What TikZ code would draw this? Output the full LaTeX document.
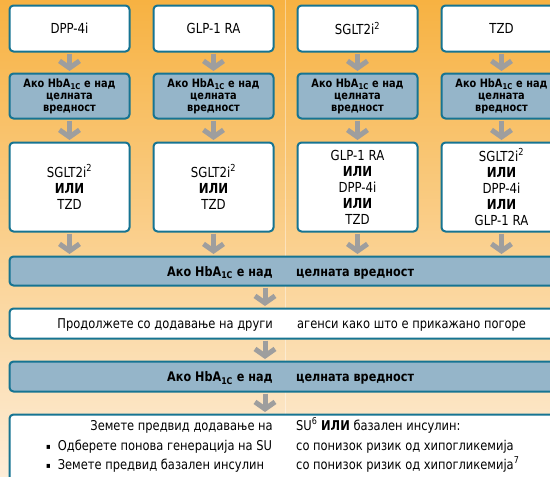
\documentclass[tikz,border=0pt]{standalone}
\usepackage{fontspec}
\setmainfont{DejaVu Sans}[FakeStretch=0.85]
\usetikzlibrary{arrows.meta}
\definecolor{bgtop}{RGB}{247,178,66}
\definecolor{bgmid}{RGB}{251,214,152}
\definecolor{bgbot}{RGB}{253,237,216}
\definecolor{frame}{RGB}{22,116,146}
\definecolor{ifblue}{RGB}{149,181,201}
\definecolor{arrgray}{RGB}{158,158,158}
\newcommand{\hba}{HbA\textsubscript{1C}}
\newcommand{\sqbul}{{\fontsize{8}{8}\selectfont\raisebox{1pt}{▪}}\hspace{7pt}}

\begin{document}
\begin{tikzpicture}[x=1pt, y=-1pt,
  box/.style = {draw=frame, line width=2pt, rounded corners=4pt, inner sep=0pt, align=center},
  drug/.style = {box, fill=white, minimum width=120pt, font=\fontsize{13.8}{16}\selectfont},
  cond/.style = {box, fill=ifblue, minimum width=120pt, minimum height=45pt, font=\bfseries\fontsize{11.5}{12}\selectfont},
  wide/.style = {box, minimum width=552pt},
  bartext/.style = {inner sep=0pt, font=\bfseries\fontsize{13.2}{15}\selectfont},
  plain/.style = {inner sep=0pt, font=\fontsize{13.5}{16}\selectfont},
  down/.style = {arrgray, line width=5pt, shorten <=1pt, shorten >=1.5pt, -{Straight Barb[length=7pt, width=20pt]}}]
\useasboundingbox (0,0) rectangle (550,477);
\clip (0,0) rectangle (550,477);
\shade[top color=bgtop, middle color=bgmid, bottom color=bgbot] (0,0) rectangle (550,477);
\draw[white, opacity=0.4, line width=1pt] (285.5,0) -- (285.5,477);

% first choice
\node[drug, minimum height=46pt] (top1) at (69.5,28.5) {DPP-4i};
\node[drug, minimum height=46pt] (top2) at (213.5,28.5) {GLP-1 RA};
\node[drug, minimum height=46pt] (top3) at (357.5,28.5) {SGLT2i\textsuperscript{2}};
\node[drug, minimum height=46pt] (top4) at (501.5,28.5) {TZD};

\foreach \i/\x in {1/69.5, 2/213.5, 3/357.5, 4/501.5}
  \node[cond] (chk\i) at (\x,96) {Ако \hba{} е над\\целната\\вредност};

% second choice
\node[drug, minimum height=89pt] (add1) at (69.5,187) {SGLT2i\textsuperscript{2}\\\textbf{ИЛИ}\\TZD};
\node[drug, minimum height=89pt] (add2) at (213.5,187) {SGLT2i\textsuperscript{2}\\\textbf{ИЛИ}\\TZD};
\node[drug, minimum height=89pt] (add3) at (357.5,187) {GLP-1 RA\\\textbf{ИЛИ}\\DPP-4i\\\textbf{ИЛИ}\\TZD};
\node[drug, minimum height=89pt] (add4) at (501.5,187) {SGLT2i\textsuperscript{2}\\\textbf{ИЛИ}\\DPP-4i\\\textbf{ИЛИ}\\GLP-1 RA};

% full-width rows
\node[wide, fill=ifblue, minimum height=29pt] (bar1) at (285.5,271) {};
\node[wide, fill=white, minimum height=30pt] (cont) at (285.5,323.5) {};
\node[wide, fill=ifblue, minimum height=30pt] (bar2) at (285.5,376.5) {};
\node[wide, fill=white, minimum height=105pt] (final) at (285.5,467) {};

\node[bartext, anchor=base east] (b1a) at (273,276) {Ако \hba{} е над};
\node[bartext, anchor=base west] (b1b) at (296,276) {целната вредност};
\node[plain, anchor=base east] (c1a) at (273,328.5) {Продолжете со додавање на други};
\node[plain, anchor=base west] (c1b) at (297,328.5) {агенси како што е прикажано погоре};
\node[bartext, anchor=base east] (b2a) at (273,381.5) {Ако \hba{} е над};
\node[bartext, anchor=base west] (b2b) at (296,381.5) {целната вредност};

\node[plain, anchor=base east] (fl1) at (273,430) {Земете предвид додавање на};
\node[plain, anchor=base west] (fl2) at (46,450) {\sqbul Одберете понова генерација на SU};
\node[plain, anchor=base west] (fl3) at (46,469) {\sqbul Земете предвид базален инсулин};
\node[plain, anchor=base west] (fr1) at (296,430) {SU\textsuperscript{6} \textbf{ИЛИ} базален инсулин:};
\node[plain, anchor=base west] (fr2) at (296,450) {со понизок ризик од хипогликемија};
\node[plain, anchor=base west] (fr3) at (296,469) {со понизок ризик од хипогликемија\textsuperscript{7}};

% arrows
\foreach \i in {1,...,4} {
  \draw[down] (top\i.south) -- (chk\i.north);
  \draw[down] (chk\i.south) -- (add\i.north);
  \draw[down] (add\i.south) -- (add\i.south |- bar1.north);
}
\coordinate (mid) at (265,0);
\draw[down] (mid |- bar1.south) -- (mid |- cont.north);
\draw[down] (mid |- cont.south) -- (mid |- bar2.north);
\draw[down] (mid |- bar2.south) -- (mid |- final.north);
\end{tikzpicture}
\end{document}
